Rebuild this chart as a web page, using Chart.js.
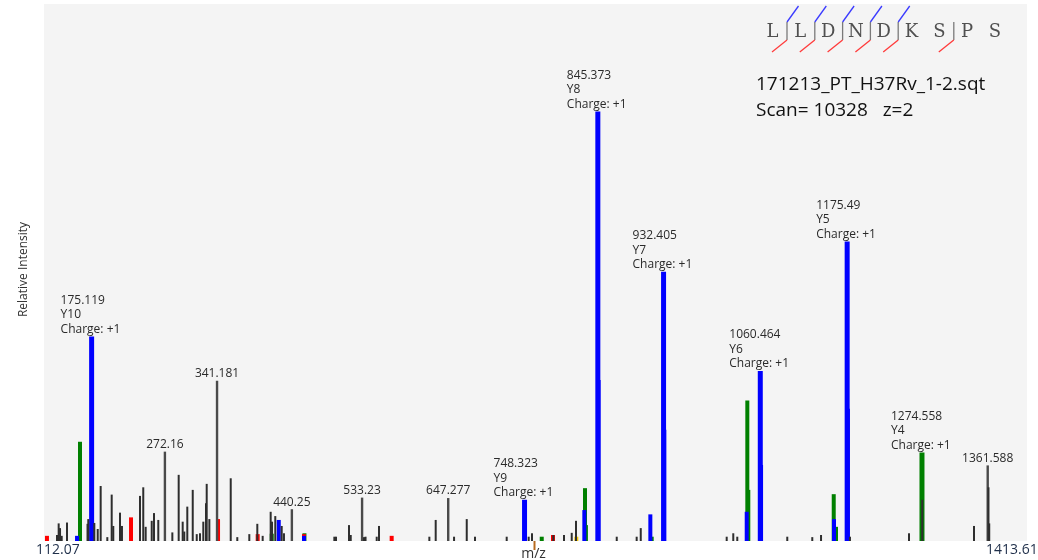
<!DOCTYPE html>
<html>
<head>
<meta charset="utf-8">
<script src="https://cdn.jsdelivr.net/npm/chart.js@4.4.1/dist/chart.umd.min.js"></script>
<style>
  html, body { margin: 0; padding: 0; background: #ffffff; }
  canvas { display: block; }
</style>
</head>
<body>
<canvas id="spectrum" width="1038" height="560"></canvas>
<script>
// m/z range of the scan
const mzRange = [112.07, 1413.61];

// Unassigned fragment peaks (m/z, relative intensity %)
const blackMz = [129.3,131.5,133.3,135.5,142.5,169.7,170.7,178.7,183.2,187.1,195.9,201.7,203.8,212.7,215.3,239.2,243.5,246.7,254.7,257.7,263.4,282.0,290.4,295.7,297.8,301.8,309.0,314.3,318.6,323.0,326.6,327.5,331.0,359.3,368.0,383.9,394.5,401.6,412.2,414.0,418.3,426.8,429.8,496.5,498.7,515.9,518.2,535.8,537.8,552.6,555.6,622.3,630.7,655.0,671.8,682.7,724.7,753.8,758.2,786.4,800.6,810.8,816.5,870.4,896.8,902.2,1016.0,1024.7,1030.0,1096.2,1129.3,1140.9,1179.2,1257.4,1274.9,1343.4,1362.6,1363.6];
const blackInt = [1.4,4.1,3.0,1.2,4.3,4.0,5.1,4.2,2.8,12.8,0.9,10.8,3.5,6.6,3.5,10.5,12.5,3.3,4.7,6.5,4.9,2.0,15.4,4.5,2.2,8.0,11.9,1.6,1.8,4.5,8.8,13.3,5.1,14.6,0.9,1.6,4.0,1.2,6.8,4.5,5.8,3.5,1.8,1.0,1.0,3.7,1.4,0.9,1.0,1.0,3.5,1.0,4.9,1.0,5.1,1.0,1.0,1.0,1.8,1.4,1.4,1.9,4.7,1.0,1.0,3.0,1.0,1.8,1.0,1.0,0.9,1.4,1.0,1.8,9.6,3.5,12.5,4.1];

// Unassigned peaks that carry an m/z label
const tagMz  = [272.16, 341.181, 440.25, 533.23, 647.277, 1361.588];
const tagInt = [20.8, 37.3, 7.4, 10.1, 10.0, 17.6];

// Matched ion series by colour
const redMz    = [116.0, 227.3, 342.5, 395.0, 456.3, 572.4, 786.0];
const redInt   = [1.2, 5.5, 5.1, 1.6, 1.6, 1.2, 1.4];
const greenMz  = [159.7, 413.6, 456.9, 771.1, 828.4, 829.6, 916.7, 1043.3, 1044.6, 1157.7, 1160.7];
const greenInt = [23.1, 1.7, 1.8, 1.0, 12.3, 3.7, 1.0, 32.7, 11.9, 10.9, 3.3];
const blueMz   = [155.8, 422.9, 456.3, 827.5, 846.4, 914.9, 933.4, 1042.5, 1061.5, 1158.1, 1176.5];
const blueInt  = [1.2, 4.9, 1.2, 7.2, 37.5, 6.2, 25.9, 6.8, 17.7, 5.1, 30.8];
const yellowMz  = [816.9];
const yellowInt = [1.0];

// Annotated y ions
const ionMz     = [175.119, 748.323, 845.373, 932.405, 1060.464, 1175.49, 1274.558];
const ionInt    = [47.6, 9.6, 100, 62.7, 39.6, 69.7, 20.6];
const ionName   = ['Y10', 'Y9', 'Y8', 'Y7', 'Y6', 'Y5', 'Y4'];
const ionCharge = [1, 1, 1, 1, 1, 1, 1];
const ionColor  = ['#0000ff', '#0000ff', '#0000ff', '#0000ff', '#0000ff', '#0000ff', '#008000'];

// Peptide and its fragment cleavage sites (after residue n)
const peptide = ['L', 'L', 'D', 'N', 'D', 'K', 'S', 'P', 'S'];
const bCuts = [1, 2, 3, 4, 5];
const yCuts = [1, 2, 3, 4, 5, 7];
const infoLines = ['171213_PT_H37Rv_1-2.sqt', 'Scan= 10328   z=2'];

const pts = (xs, ys) => xs.map((x, i) => ({ x: x, y: ys[i] }));
const bars = (label, xs, ys, color, thick) => ({
  label, data: pts(xs, ys), backgroundColor: color, barThickness: thick,
  borderWidth: 0, grouped: false, inflateAmount: 0
});

const UI = '"Open Sans", "DejaVu Sans", sans-serif';

const decor = {
  id: 'decor',
  beforeDraw(chart) {
    const { ctx, chartArea: a } = chart;
    ctx.save();
    ctx.fillStyle = '#f4f4f4';
    ctx.fillRect(a.left, a.top, a.right - a.left, a.bottom - a.top);
    ctx.restore();
  },
  afterDraw(chart) {
    const { ctx, chartArea: a } = chart;
    const xs = chart.scales.x, ys = chart.scales.y;
    ctx.save();

    // ion annotations
    ctx.font = '12px ' + UI;
    ctx.fillStyle = '#2a2a2a';
    ctx.textAlign = 'left';
    ctx.textBaseline = 'middle';
    ionMz.forEach((mz, i) => {
      const px = xs.getPixelForValue(mz), py = ys.getPixelForValue(ionInt[i]);
      const lines = [String(mz), ionName[i], 'Charge: +' + ionCharge[i]];
      lines.forEach((t, j) => ctx.fillText(t, px - 31, py - 7 - (2 - j) * 14.5));
    });
    // labelled unassigned peaks
    ctx.textAlign = 'center';
    tagMz.forEach((mz, i) => {
      const px = xs.getPixelForValue(mz), py = ys.getPixelForValue(tagInt[i]);
      ctx.fillText(String(mz), px, py - 7);
    });

    // x axis end labels, centre tick and title
    ctx.font = '14px ' + UI;
    ctx.fillStyle = '#1f2f4a';
    ctx.textAlign = 'left';
    ctx.fillText(String(mzRange[0]), xs.getPixelForValue(mzRange[0]) - 8, a.bottom + 9);
    ctx.fillText(mzRange[1].toFixed(2), xs.getPixelForValue(mzRange[1]) - 41, a.bottom + 9);
    const mid = xs.getPixelForValue((mzRange[0] + mzRange[1]) / 2) - 1;
    ctx.strokeStyle = '#b86a1e';
    ctx.lineWidth = 2;
    ctx.beginPath(); ctx.moveTo(mid, a.bottom); ctx.lineTo(mid, a.bottom + 9); ctx.stroke();
    ctx.font = '14px ' + UI;
    ctx.fillStyle = '#333';
    ctx.textAlign = 'center';
    ctx.textBaseline = 'top';
    ctx.fillText('m/z', mid - 1, a.bottom + 6);

    // y axis title
    ctx.save();
    ctx.translate(24, (a.top + a.bottom) / 2 - 3);
    ctx.rotate(-Math.PI / 2);
    ctx.font = '12px ' + UI;
    ctx.textBaseline = 'middle';
    ctx.fillStyle = '#333';
    ctx.fillText('Relative Intensity', 0, 0);
    ctx.restore();

    // peptide sequence with fragment markers
    const x0 = 772.5, step = 27.8, yc = 32;
    ctx.font = '18px "DejaVu Serif", "Liberation Serif", serif';
    ctx.fillStyle = '#505050';
    ctx.textAlign = 'center';
    ctx.textBaseline = 'middle';
    peptide.forEach((r, i) => ctx.fillText(r, x0 + i * step, yc));
    ctx.lineWidth = 1.3;
    const cuts = Array.from(new Set(bCuts.concat(yCuts)));
    cuts.forEach(n => {
      const cx = x0 + (n - 1) * step + 14.5;
      ctx.strokeStyle = '#7a7a7a';
      ctx.beginPath(); ctx.moveTo(cx, 22); ctx.lineTo(cx, 40); ctx.stroke();
      if (bCuts.includes(n)) {
        ctx.strokeStyle = '#3a3aff';
        ctx.beginPath(); ctx.moveTo(cx, 22); ctx.lineTo(cx + 11.5, 6); ctx.stroke();
      }
      if (yCuts.includes(n)) {
        ctx.strokeStyle = '#ff3a3a';
        ctx.beginPath(); ctx.moveTo(cx, 40); ctx.lineTo(cx - 15, 52); ctx.stroke();
      }
    });

    // run / scan info
    ctx.font = '19px ' + UI;
    ctx.fillStyle = '#111';
    ctx.textAlign = 'left';
    infoLines.forEach((t, i) => ctx.fillText(t, 756, 85 + i * 26));
    ctx.restore();
  }
};

new Chart(document.getElementById('spectrum'), {
  type: 'bar',
  data: {
    datasets: [
      bars('unassigned', blackMz, blackInt, '#2e2e2e', 2),
      bars('labelled', tagMz, tagInt, '#4a4a4a', 2.4),
      bars('yellow', yellowMz, yellowInt, '#f2c500', 4),
      bars('blue', blueMz, blueInt, '#0000ff', 4),
      { label: 'y ions', data: pts(ionMz, ionInt), backgroundColor: ionColor,
        barThickness: 5, borderWidth: 0, grouped: false, inflateAmount: 0 },
      bars('red', redMz, redInt, '#ff0000', 4),
      bars('green', greenMz, greenInt, '#008000', 4)
    ]
  },
  options: {
    responsive: false,
    animation: false,
    devicePixelRatio: 1,
    layout: { padding: { left: 44, right: 11, top: 4, bottom: 19 } },
    plugins: { legend: { display: false }, tooltip: { enabled: false } },
    scales: {
      x: { type: 'linear', min: mzRange[0], max: mzRange[1], offset: false, display: false },
      y: { min: 0, max: 125, display: false }
    }
  },
  plugins: [decor]
});
</script>
</body>
</html>
